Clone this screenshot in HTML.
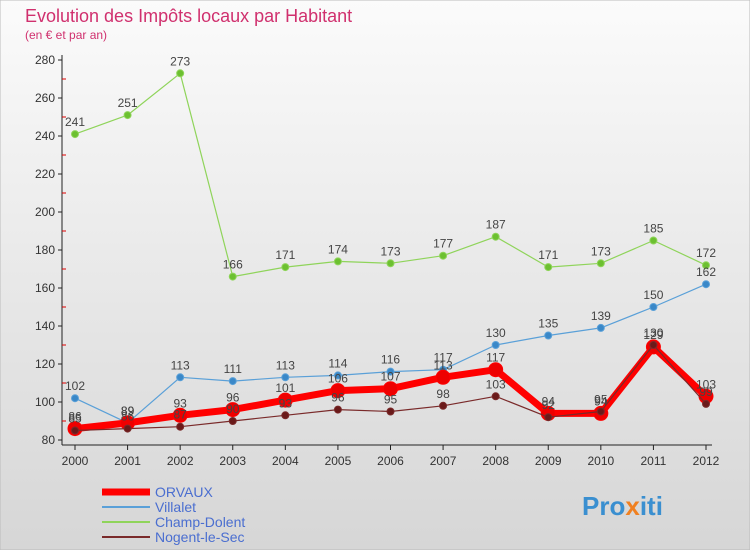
<!DOCTYPE html>
<html><head><meta charset="utf-8"><style>
body{margin:0;width:750px;height:550px;overflow:hidden;font-family:"Liberation Sans",sans-serif}
svg{display:block}
</style></head><body>
<svg id="c" width="750" height="550">
<defs><linearGradient id="bg" x1="0" y1="0" x2="0" y2="1"><stop offset="0" stop-color="#fbfbfb"/><stop offset="1" stop-color="#d6d6d6"/></linearGradient></defs>
<rect width="750" height="550" fill="url(#bg)" stroke="#bbb"/>
<text x="25" y="22" font-size="18" fill="#d0306e">Evolution des Impôts locaux par Habitant</text>
<text x="25" y="39" font-size="12" fill="#d0306e">(en € et par an)</text>
<g id="axes"></g><g id="series"></g><g id="legend"></g>
<text x="582" y="515" font-size="26" font-weight="bold" fill="#3a8fd0">Pro<tspan fill="#f08020">x</tspan>iti</text>
</svg>
<script>
const years=["2000","2001","2002","2003","2004","2005","2006","2007","2008","2009","2010","2011","2012"];
const orvaux=[86,89,93,96,101,106,107,113,117,94,94,129,103];
const villalet=[102,89,113,111,113,114,116,117,130,135,139,150,162];
const champ=[241,251,273,166,171,174,173,177,187,171,173,185,172];
const nogent=[85,86,87,90,93,96,95,98,103,92,95,130,99];
const yTicks=[80,100,120,140,160,180,200,220,240,260,280];
const NS="http://www.w3.org/2000/svg";
const x=i=>75+i*(706-75)/(years.length-1);
const y=v=>440-(v-80)*1.9;
function mk(tag,attrs,parent,text){const e=document.createElementNS(NS,tag);for(const k in attrs)e.setAttribute(k,attrs[k]);if(text!==undefined)e.textContent=text;parent.appendChild(e);return e;}
const ax=document.getElementById('axes');
let l=mk('line',{x1:62,y1:55,x2:62,y2:445,stroke:'#222'},ax);


for(let v=80;v<=280;v+=10){const t=mk('line',{x1:v%20?62:58,y1:y(v),x2:v%20?66:62,y2:y(v),stroke:v%20?'#d00':'#222'},ax);

}
yTicks.forEach(v=>{const t=mk('text',{x:55,y:y(v)+4,'font-size':12,fill:'#333','text-anchor':'end'},ax,String(v));

});
l=mk('line',{x1:62,y1:445,x2:712,y2:445,stroke:'#222'},ax);


years.forEach((yr,i)=>{const t=mk('line',{x1:x(i),y1:445,x2:x(i),y2:450,stroke:'#222'},ax);


const tl=mk('text',{x:x(i),y:465,'font-size':12,fill:'#333','text-anchor':'middle'},ax,yr);

});
const sg=document.getElementById('series');
function draw(name,data,color,w,r,dot){const g=mk('g',{},sg);


const p=mk('polyline',{points:data.map((v,i)=>x(i)+','+y(v)).join(' '),fill:'none',stroke:color,'stroke-width':w,'stroke-linejoin':'round'},g);


data.forEach((v,i)=>{const c=mk('circle',{cx:x(i),cy:y(v),r:r,fill:dot,stroke:color,'stroke-width':1},g);


const t=mk('text',{x:x(i),y:y(v)-8,'font-size':12,fill:'#444','text-anchor':'middle'},g,String(v));

});}
draw('champ-dolent',champ,'#8fd45a',1.2,3.5,'#6cc030');
draw('villalet',villalet,'#5aa0d8',1.2,3.5,'#3a88c8');
draw('orvaux',orvaux,'#ff0000',7,7,'#ee0000');
draw('nogent-le-sec',nogent,'#7a2a2a',1.2,3.5,'#6a1a1a');
const lg=document.getElementById('legend');
const items=[['ORVAUX','#ff0000',7],['Villalet','#5aa0d8',2],['Champ-Dolent','#8fd45a',2],['Nogent-le-Sec','#7a2a2a',2]];
items.forEach((it,i)=>{const yy=492+i*15;
const ln=mk('line',{x1:102,y1:yy,x2:150,y2:yy,stroke:it[1],'stroke-width':it[2]},lg);


const t=mk('text',{x:155,y:yy+5,'font-size':14,fill:'#4a6ed0'},lg,it[0]);

});
</script>
</body></html>
